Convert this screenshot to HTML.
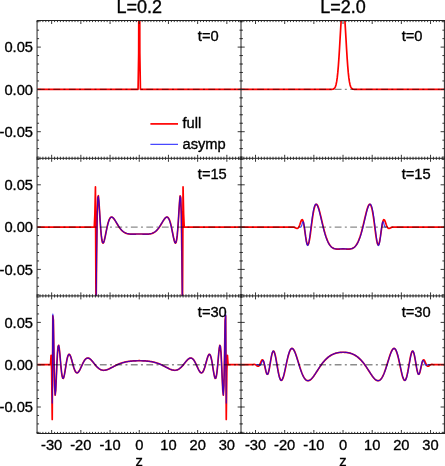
<!DOCTYPE html>
<html><head><meta charset="utf-8"><style>
html,body{margin:0;padding:0;background:#fff;}
body{width:445px;height:466px;overflow:hidden;font-family:"Liberation Sans",sans-serif;}
svg{display:block;}
</style></head><body>
<svg width="445" height="466" viewBox="0 0 445 466">
<rect width="445" height="466" fill="#fff"/>
<defs>
<clipPath id="c00"><rect x="37.05" y="20.5" width="204.4" height="137.8"/></clipPath>
<clipPath id="c01"><rect x="37.05" y="158.3" width="204.4" height="137.6"/></clipPath>
<clipPath id="c02"><rect x="37.05" y="295.9" width="204.4" height="137.6"/></clipPath>
<clipPath id="c10"><rect x="240.93" y="20.5" width="204.19" height="137.8"/></clipPath>
<clipPath id="c11"><rect x="240.93" y="158.3" width="204.19" height="137.6"/></clipPath>
<clipPath id="c12"><rect x="240.93" y="295.9" width="204.19" height="137.6"/></clipPath>
</defs>
<g clip-path="url(#c00)" fill="none" stroke-linejoin="round">
<polyline points="37.05,89.4 37.63,89.4 38.22,89.4 38.8,89.4 39.39,89.4 39.97,89.4 40.55,89.4 41.14,89.4 41.72,89.4 42.31,89.4 42.89,89.4 43.47,89.4 44.06,89.4 44.64,89.4 45.23,89.4 45.81,89.4 46.39,89.4 46.98,89.4 47.56,89.4 48.15,89.4 48.73,89.4 49.31,89.4 49.9,89.4 50.48,89.4 51.07,89.4 51.65,89.4 52.23,89.4 52.82,89.4 53.4,89.4 53.99,89.4 54.57,89.4 55.15,89.4 55.74,89.4 56.32,89.4 56.91,89.4 57.49,89.4 58.07,89.4 58.66,89.4 59.24,89.4 59.83,89.4 60.41,89.4 60.99,89.4 61.58,89.4 62.16,89.4 62.75,89.4 63.33,89.4 63.91,89.4 64.5,89.4 65.08,89.4 65.67,89.4 66.25,89.4 66.83,89.4 67.42,89.4 68,89.4 68.59,89.4 69.17,89.4 69.75,89.4 70.34,89.4 70.92,89.4 71.51,89.4 72.09,89.4 72.67,89.4 73.26,89.4 73.84,89.4 74.43,89.4 75.01,89.4 75.59,89.4 76.18,89.4 76.76,89.4 77.35,89.4 77.93,89.4 78.51,89.4 79.1,89.4 79.68,89.4 80.27,89.4 80.85,89.4 81.43,89.4 82.02,89.4 82.6,89.4 83.19,89.4 83.77,89.4 84.35,89.4 84.94,89.4 85.52,89.4 86.11,89.4 86.69,89.4 87.27,89.4 87.86,89.4 88.44,89.4 89.03,89.4 89.61,89.4 90.19,89.4 90.78,89.4 91.36,89.4 91.95,89.4 92.53,89.4 93.11,89.4 93.7,89.4 94.28,89.4 94.87,89.4 95.45,89.4 96.03,89.4 96.62,89.4 97.2,89.4 97.79,89.4 98.37,89.4 98.95,89.4 99.54,89.4 100.12,89.4 100.71,89.4 101.29,89.4 101.87,89.4 102.46,89.4 103.04,89.4 103.63,89.4 104.21,89.4 104.79,89.4 105.38,89.4 105.96,89.4 106.55,89.4 107.13,89.4 107.71,89.4 108.3,89.4 108.88,89.4 109.47,89.4 110.05,89.4 110.63,89.4 111.22,89.4 111.8,89.4 112.39,89.4 112.97,89.4 113.55,89.4 114.14,89.4 114.72,89.4 115.31,89.4 115.89,89.4 116.47,89.4 117.06,89.4 117.64,89.4 118.23,89.4 118.81,89.4 119.39,89.4 119.98,89.4 120.56,89.4 121.15,89.4 121.73,89.4 122.31,89.4 122.9,89.4 123.48,89.4 124.07,89.4 124.65,89.4 125.23,89.4 125.82,89.4 126.4,89.4 126.99,89.4 127.57,89.4 128.15,89.4 128.74,89.4 129.32,89.4 129.91,89.4 130.49,89.4 131.07,89.4 131.66,89.4 132.24,89.4 132.83,89.4 133.41,89.4 133.99,89.4 134.58,89.4 135.16,89.4 135.75,89.4 136.33,89.4 136.91,89.4 137.5,89.4 138.08,89.31 138.67,53.19 139.25,-178.13 139.83,53.19 140.42,89.31 141,89.4 141.59,89.4 142.17,89.4 142.75,89.4 143.34,89.4 143.92,89.4 144.51,89.4 145.09,89.4 145.67,89.4 146.26,89.4 146.84,89.4 147.43,89.4 148.01,89.4 148.59,89.4 149.18,89.4 149.76,89.4 150.35,89.4 150.93,89.4 151.51,89.4 152.1,89.4 152.68,89.4 153.27,89.4 153.85,89.4 154.43,89.4 155.02,89.4 155.6,89.4 156.19,89.4 156.77,89.4 157.35,89.4 157.94,89.4 158.52,89.4 159.11,89.4 159.69,89.4 160.27,89.4 160.86,89.4 161.44,89.4 162.03,89.4 162.61,89.4 163.19,89.4 163.78,89.4 164.36,89.4 164.95,89.4 165.53,89.4 166.11,89.4 166.7,89.4 167.28,89.4 167.87,89.4 168.45,89.4 169.03,89.4 169.62,89.4 170.2,89.4 170.79,89.4 171.37,89.4 171.95,89.4 172.54,89.4 173.12,89.4 173.71,89.4 174.29,89.4 174.87,89.4 175.46,89.4 176.04,89.4 176.63,89.4 177.21,89.4 177.79,89.4 178.38,89.4 178.96,89.4 179.55,89.4 180.13,89.4 180.71,89.4 181.3,89.4 181.88,89.4 182.47,89.4 183.05,89.4 183.63,89.4 184.22,89.4 184.8,89.4 185.39,89.4 185.97,89.4 186.55,89.4 187.14,89.4 187.72,89.4 188.31,89.4 188.89,89.4 189.47,89.4 190.06,89.4 190.64,89.4 191.23,89.4 191.81,89.4 192.39,89.4 192.98,89.4 193.56,89.4 194.15,89.4 194.73,89.4 195.31,89.4 195.9,89.4 196.48,89.4 197.07,89.4 197.65,89.4 198.23,89.4 198.82,89.4 199.4,89.4 199.99,89.4 200.57,89.4 201.15,89.4 201.74,89.4 202.32,89.4 202.91,89.4 203.49,89.4 204.07,89.4 204.66,89.4 205.24,89.4 205.83,89.4 206.41,89.4 206.99,89.4 207.58,89.4 208.16,89.4 208.75,89.4 209.33,89.4 209.91,89.4 210.5,89.4 211.08,89.4 211.67,89.4 212.25,89.4 212.83,89.4 213.42,89.4 214,89.4 214.59,89.4 215.17,89.4 215.75,89.4 216.34,89.4 216.92,89.4 217.51,89.4 218.09,89.4 218.67,89.4 219.26,89.4 219.84,89.4 220.43,89.4 221.01,89.4 221.59,89.4 222.18,89.4 222.76,89.4 223.35,89.4 223.93,89.4 224.51,89.4 225.1,89.4 225.68,89.4 226.27,89.4 226.85,89.4 227.43,89.4 228.02,89.4 228.6,89.4 229.19,89.4 229.77,89.4 230.35,89.4 230.94,89.4 231.52,89.4 232.11,89.4 232.69,89.4 233.27,89.4 233.86,89.4 234.44,89.4 235.03,89.4 235.61,89.4 236.19,89.4 236.78,89.4 237.36,89.4 237.95,89.4 238.53,89.4 239.11,89.4 239.7,89.4 240.28,89.4 240.87,89.4 241.45,89.4" stroke="#ff0000" stroke-width="1.7"/>
</g>
<line x1="37.05" y1="89.4" x2="241.45" y2="89.4" stroke="#8c8c8c" stroke-width="1.4" stroke-dasharray="6.8 3.3 2 3.4" stroke-dashoffset="14.7" style="mix-blend-mode:multiply"/>
<g clip-path="url(#c01)" fill="none" stroke-linejoin="round">
<polyline points="37.05,227.1 37.63,227.1 38.22,227.1 38.8,227.1 39.39,227.1 39.97,227.1 40.55,227.1 41.14,227.1 41.72,227.1 42.31,227.1 42.89,227.1 43.47,227.1 44.06,227.1 44.64,227.1 45.23,227.1 45.81,227.1 46.39,227.1 46.98,227.1 47.56,227.1 48.15,227.1 48.73,227.1 49.31,227.1 49.9,227.1 50.48,227.1 51.07,227.1 51.65,227.1 52.23,227.1 52.82,227.1 53.4,227.1 53.99,227.1 54.57,227.1 55.15,227.1 55.74,227.1 56.32,227.1 56.91,227.1 57.49,227.1 58.07,227.1 58.66,227.1 59.24,227.1 59.83,227.1 60.41,227.1 60.99,227.1 61.58,227.1 62.16,227.1 62.75,227.1 63.33,227.1 63.91,227.1 64.5,227.1 65.08,227.1 65.67,227.1 66.25,227.1 66.83,227.1 67.42,227.1 68,227.1 68.59,227.1 69.17,227.1 69.75,227.1 70.34,227.1 70.92,227.1 71.51,227.1 72.09,227.1 72.67,227.1 73.26,227.1 73.84,227.1 74.43,227.1 75.01,227.1 75.59,227.1 76.18,227.1 76.76,227.1 77.35,227.1 77.93,227.1 78.51,227.1 79.1,227.1 79.68,227.1 80.27,227.1 80.85,227.1 81.43,227.1 82.02,227.1 82.6,227.1 83.19,227.1 83.77,227.1 84.35,227.1 84.94,227.1 85.52,227.1 86.11,227.1 86.69,227.1 87.27,227.1 87.86,227.1 88.44,227.1 89.03,227.1 89.61,227.1 90.19,227.1 90.78,227.1 91.36,227.1 91.95,227.1 92.53,227.1 93.11,227.1 93.7,227.1 94.28,227.06 94.87,213.98 95.45,186.91 96.03,315.73 96.62,255.89 97.2,213.64 97.79,197.24 98.37,195.73 98.95,201.9 99.54,211.15 100.12,220.74 100.71,229.14 101.29,235.64 101.87,240.04 102.46,242.45 103.04,243.14 103.63,242.44 104.21,240.72 104.79,238.31 105.38,235.5 105.96,232.53 106.55,229.59 107.13,226.83 107.71,224.35 108.3,222.21 108.88,220.45 109.47,219.08 110.05,218.08 110.63,217.44 111.22,217.12 111.8,217.09 112.39,217.32 112.97,217.76 113.55,218.37 114.14,219.11 114.72,219.96 115.31,220.88 115.89,221.84 116.47,222.82 117.06,223.81 117.64,224.78 118.23,225.72 118.81,226.62 119.39,227.47 119.98,228.27 120.56,229.02 121.15,229.7 121.73,230.33 122.31,230.89 122.9,231.4 123.48,231.85 124.07,232.25 124.65,232.6 125.23,232.9 125.82,233.16 126.4,233.38 126.99,233.56 127.57,233.71 128.15,233.83 128.74,233.92 129.32,234 129.91,234.05 130.49,234.08 131.07,234.11 131.66,234.12 132.24,234.12 132.83,234.11 133.41,234.1 133.99,234.09 134.58,234.07 135.16,234.05 135.75,234.04 136.33,234.02 136.91,234.01 137.5,233.99 138.08,233.98 138.67,233.98 139.25,233.98 139.83,233.98 140.42,233.98 141,233.99 141.59,234.01 142.17,234.02 142.75,234.04 143.34,234.05 143.92,234.07 144.51,234.09 145.09,234.1 145.67,234.11 146.26,234.12 146.84,234.12 147.43,234.11 148.01,234.08 148.59,234.05 149.18,234 149.76,233.92 150.35,233.83 150.93,233.71 151.51,233.56 152.1,233.38 152.68,233.16 153.27,232.9 153.85,232.6 154.43,232.25 155.02,231.85 155.6,231.4 156.19,230.89 156.77,230.33 157.35,229.7 157.94,229.02 158.52,228.27 159.11,227.47 159.69,226.62 160.27,225.72 160.86,224.78 161.44,223.81 162.03,222.82 162.61,221.84 163.19,220.88 163.78,219.96 164.36,219.11 164.95,218.37 165.53,217.76 166.11,217.32 166.7,217.09 167.28,217.12 167.87,217.44 168.45,218.08 169.03,219.08 169.62,220.45 170.2,222.21 170.79,224.35 171.37,226.83 171.95,229.59 172.54,232.53 173.12,235.5 173.71,238.31 174.29,240.72 174.87,242.44 175.46,243.14 176.04,242.45 176.63,240.04 177.21,235.64 177.79,229.14 178.38,220.74 178.96,211.15 179.55,201.9 180.13,195.73 180.71,197.24 181.3,213.64 181.88,255.89 182.47,315.73 183.05,186.91 183.63,213.98 184.22,227.06 184.8,227.1 185.39,227.1 185.97,227.1 186.55,227.1 187.14,227.1 187.72,227.1 188.31,227.1 188.89,227.1 189.47,227.1 190.06,227.1 190.64,227.1 191.23,227.1 191.81,227.1 192.39,227.1 192.98,227.1 193.56,227.1 194.15,227.1 194.73,227.1 195.31,227.1 195.9,227.1 196.48,227.1 197.07,227.1 197.65,227.1 198.23,227.1 198.82,227.1 199.4,227.1 199.99,227.1 200.57,227.1 201.15,227.1 201.74,227.1 202.32,227.1 202.91,227.1 203.49,227.1 204.07,227.1 204.66,227.1 205.24,227.1 205.83,227.1 206.41,227.1 206.99,227.1 207.58,227.1 208.16,227.1 208.75,227.1 209.33,227.1 209.91,227.1 210.5,227.1 211.08,227.1 211.67,227.1 212.25,227.1 212.83,227.1 213.42,227.1 214,227.1 214.59,227.1 215.17,227.1 215.75,227.1 216.34,227.1 216.92,227.1 217.51,227.1 218.09,227.1 218.67,227.1 219.26,227.1 219.84,227.1 220.43,227.1 221.01,227.1 221.59,227.1 222.18,227.1 222.76,227.1 223.35,227.1 223.93,227.1 224.51,227.1 225.1,227.1 225.68,227.1 226.27,227.1 226.85,227.1 227.43,227.1 228.02,227.1 228.6,227.1 229.19,227.1 229.77,227.1 230.35,227.1 230.94,227.1 231.52,227.1 232.11,227.1 232.69,227.1 233.27,227.1 233.86,227.1 234.44,227.1 235.03,227.1 235.61,227.1 236.19,227.1 236.78,227.1 237.36,227.1 237.95,227.1 238.53,227.1 239.11,227.1 239.7,227.1 240.28,227.1 240.87,227.1 241.45,227.1" stroke="#ff0000" stroke-width="1.7"/>
<polyline points="96.03,314.33 96.62,253.94 97.2,215.25 97.79,198.63 98.37,196.25 98.95,201.68 99.54,210.47 100.12,219.87 100.71,228.26 101.29,234.88 101.87,239.47 102.46,242.08 103.04,242.97 103.63,242.46 104.21,240.88 104.79,238.59 105.38,235.85 105.96,232.93 106.55,230.01 107.13,227.25 107.71,224.75 108.3,222.57 108.88,220.76 109.47,219.33 110.05,218.28 110.63,217.58 111.22,217.21 111.8,217.13 112.39,217.31 112.97,217.7 113.55,218.27 114.14,218.99 114.72,219.8 115.31,220.7 115.89,221.64 116.47,222.62 117.06,223.59 117.64,224.55 118.23,225.49 118.81,226.39 119.39,227.25 119.98,228.06 120.56,228.81 121.15,229.5 121.73,230.13 122.31,230.71 122.9,231.23 123.48,231.69 124.07,232.1 124.65,232.46 125.23,232.77 125.82,233.04 126.4,233.27 126.99,233.46 127.57,233.62 128.15,233.75 128.74,233.85 129.32,233.94 129.91,234 130.49,234.04 131.07,234.07 131.66,234.09 132.24,234.1 132.83,234.1 133.41,234.09 133.99,234.08 134.58,234.07 135.16,234.05 135.75,234.04 136.33,234.02 136.91,234.01 137.5,234 138.08,233.99 138.67,233.99 139.25,233.99 139.83,233.99 140.42,233.99 141,234 141.59,234.01 142.17,234.02 142.75,234.04 143.34,234.05 143.92,234.07 144.51,234.08 145.09,234.09 145.67,234.1 146.26,234.1 146.84,234.09 147.43,234.07 148.01,234.04 148.59,234 149.18,233.94 149.76,233.85 150.35,233.75 150.93,233.62 151.51,233.46 152.1,233.27 152.68,233.04 153.27,232.77 153.85,232.46 154.43,232.1 155.02,231.69 155.6,231.23 156.19,230.71 156.77,230.13 157.35,229.5 157.94,228.81 158.52,228.06 159.11,227.25 159.69,226.39 160.27,225.49 160.86,224.55 161.44,223.59 162.03,222.62 162.61,221.64 163.19,220.7 163.78,219.8 164.36,218.99 164.95,218.27 165.53,217.7 166.11,217.31 166.7,217.13 167.28,217.21 167.87,217.58 168.45,218.28 169.03,219.33 169.62,220.76 170.2,222.57 170.79,224.75 171.37,227.25 171.95,230.01 172.54,232.93 173.12,235.85 173.71,238.59 174.29,240.88 174.87,242.46 175.46,242.97 176.04,242.08 176.63,239.47 177.21,234.88 177.79,228.26 178.38,219.87 178.96,210.47 179.55,201.68 180.13,196.25 180.71,198.63 181.3,215.25 181.88,253.94 182.47,314.33" stroke="#0000ff" stroke-width="1.2" stroke-opacity="0.72"/>
</g>
<line x1="37.05" y1="227.1" x2="241.45" y2="227.1" stroke="#8c8c8c" stroke-width="1.4" stroke-dasharray="6.8 3.3 2 3.4" stroke-dashoffset="14.7" style="mix-blend-mode:multiply"/>
<g clip-path="url(#c02)" fill="none" stroke-linejoin="round">
<polyline points="37.05,364.7 37.63,364.7 38.22,364.7 38.8,364.7 39.39,364.7 39.97,364.7 40.55,364.7 41.14,364.7 41.72,364.7 42.31,364.7 42.89,364.7 43.47,364.7 44.06,364.7 44.64,364.7 45.23,364.7 45.81,364.7 46.39,364.7 46.98,364.7 47.56,364.7 48.15,364.7 48.73,364.7 49.31,364.7 49.9,364.7 50.48,364.67 51.07,355.32 51.65,371.01 52.23,419.39 52.82,315.79 53.4,320.07 53.99,357.15 54.57,385.4 55.15,395.22 55.74,390.21 56.32,377.54 56.91,363.6 57.49,352.59 58.07,346.43 58.66,345.29 59.24,348.22 59.83,353.8 60.41,360.53 60.99,367.11 61.58,372.58 62.16,376.37 62.75,378.27 63.33,378.34 63.91,376.85 64.5,374.18 65.08,370.77 65.67,367.05 66.25,363.42 66.83,360.17 67.42,357.53 68,355.64 68.59,354.57 69.17,354.29 69.75,354.74 70.34,355.81 70.92,357.38 71.51,359.3 72.09,361.41 72.67,363.59 73.26,365.71 73.84,367.67 74.43,369.38 75.01,370.78 75.59,371.84 76.18,372.54 76.76,372.87 77.35,372.86 77.93,372.54 78.51,371.93 79.1,371.09 79.68,370.06 80.27,368.9 80.85,367.65 81.43,366.35 82.02,365.06 82.6,363.81 83.19,362.63 83.77,361.56 84.35,360.6 84.94,359.79 85.52,359.12 86.11,358.61 86.69,358.26 87.27,358.07 87.86,358.02 88.44,358.11 89.03,358.33 89.61,358.66 90.19,359.1 90.78,359.62 91.36,360.21 91.95,360.86 92.53,361.55 93.11,362.27 93.7,363 94.28,363.73 94.87,364.46 95.45,365.16 96.03,365.84 96.62,366.48 97.2,367.09 97.79,367.64 98.37,368.15 98.95,368.6 99.54,369 100.12,369.34 100.71,369.63 101.29,369.86 101.87,370.04 102.46,370.17 103.04,370.25 103.63,370.28 104.21,370.26 104.79,370.21 105.38,370.11 105.96,369.98 106.55,369.82 107.13,369.63 107.71,369.42 108.3,369.19 108.88,368.93 109.47,368.66 110.05,368.38 110.63,368.09 111.22,367.79 111.8,367.49 112.39,367.19 112.97,366.88 113.55,366.57 114.14,366.27 114.72,365.97 115.31,365.67 115.89,365.39 116.47,365.1 117.06,364.83 117.64,364.57 118.23,364.31 118.81,364.07 119.39,363.83 119.98,363.6 120.56,363.39 121.15,363.18 121.73,362.99 122.31,362.8 122.9,362.63 123.48,362.46 124.07,362.31 124.65,362.16 125.23,362.03 125.82,361.9 126.4,361.78 126.99,361.67 127.57,361.57 128.15,361.47 128.74,361.39 129.32,361.3 129.91,361.23 130.49,361.16 131.07,361.1 131.66,361.04 132.24,360.99 132.83,360.95 133.41,360.9 133.99,360.87 134.58,360.83 135.16,360.81 135.75,360.78 136.33,360.76 136.91,360.75 137.5,360.73 138.08,360.73 138.67,360.72 139.25,360.72 139.83,360.72 140.42,360.73 141,360.73 141.59,360.75 142.17,360.76 142.75,360.78 143.34,360.81 143.92,360.83 144.51,360.87 145.09,360.9 145.67,360.95 146.26,360.99 146.84,361.04 147.43,361.1 148.01,361.16 148.59,361.23 149.18,361.3 149.76,361.39 150.35,361.47 150.93,361.57 151.51,361.67 152.1,361.78 152.68,361.9 153.27,362.03 153.85,362.16 154.43,362.31 155.02,362.46 155.6,362.63 156.19,362.8 156.77,362.99 157.35,363.18 157.94,363.39 158.52,363.6 159.11,363.83 159.69,364.07 160.27,364.31 160.86,364.57 161.44,364.83 162.03,365.1 162.61,365.39 163.19,365.67 163.78,365.97 164.36,366.27 164.95,366.57 165.53,366.88 166.11,367.19 166.7,367.49 167.28,367.79 167.87,368.09 168.45,368.38 169.03,368.66 169.62,368.93 170.2,369.19 170.79,369.42 171.37,369.63 171.95,369.82 172.54,369.98 173.12,370.11 173.71,370.21 174.29,370.26 174.87,370.28 175.46,370.25 176.04,370.17 176.63,370.04 177.21,369.86 177.79,369.63 178.38,369.34 178.96,369 179.55,368.6 180.13,368.15 180.71,367.64 181.3,367.09 181.88,366.48 182.47,365.84 183.05,365.16 183.63,364.46 184.22,363.73 184.8,363 185.39,362.27 185.97,361.55 186.55,360.86 187.14,360.21 187.72,359.62 188.31,359.1 188.89,358.66 189.47,358.33 190.06,358.11 190.64,358.02 191.23,358.07 191.81,358.26 192.39,358.61 192.98,359.12 193.56,359.79 194.15,360.6 194.73,361.56 195.31,362.63 195.9,363.81 196.48,365.06 197.07,366.35 197.65,367.65 198.23,368.9 198.82,370.06 199.4,371.09 199.99,371.93 200.57,372.54 201.15,372.86 201.74,372.87 202.32,372.54 202.91,371.84 203.49,370.78 204.07,369.38 204.66,367.67 205.24,365.71 205.83,363.59 206.41,361.41 206.99,359.3 207.58,357.38 208.16,355.81 208.75,354.74 209.33,354.29 209.91,354.57 210.5,355.64 211.08,357.53 211.67,360.17 212.25,363.42 212.83,367.05 213.42,370.77 214,374.18 214.59,376.85 215.17,378.34 215.75,378.27 216.34,376.37 216.92,372.58 217.51,367.11 218.09,360.53 218.67,353.8 219.26,348.22 219.84,345.29 220.43,346.43 221.01,352.59 221.59,363.6 222.18,377.54 222.76,390.21 223.35,395.22 223.93,385.4 224.51,357.15 225.1,320.07 225.68,315.79 226.27,419.39 226.85,371.01 227.43,355.32 228.02,364.67 228.6,364.7 229.19,364.7 229.77,364.7 230.35,364.7 230.94,364.7 231.52,364.7 232.11,364.7 232.69,364.7 233.27,364.7 233.86,364.7 234.44,364.7 235.03,364.7 235.61,364.7 236.19,364.7 236.78,364.7 237.36,364.7 237.95,364.7 238.53,364.7 239.11,364.7 239.7,364.7 240.28,364.7 240.87,364.7 241.45,364.7" stroke="#ff0000" stroke-width="1.7"/>
<polyline points="52.23,403.59 52.82,314.15 53.4,321.29 53.99,357.16 54.57,384.89 55.15,394.9 55.74,390.3 56.32,377.93 56.91,364.11 57.49,353.04 58.07,346.7 58.66,345.34 59.24,348.08 59.83,353.53 60.41,360.19 60.99,366.76 61.58,372.28 62.16,376.17 62.75,378.17 63.33,378.34 63.91,376.94 64.5,374.34 65.08,370.98 65.67,367.29 66.25,363.65 66.83,360.38 67.42,357.7 68,355.77 68.59,354.64 69.17,354.3 69.75,354.71 70.34,355.74 70.92,357.27 71.51,359.16 72.09,361.26 72.67,363.43 73.26,365.56 73.84,367.52 74.43,369.25 75.01,370.67 75.59,371.76 76.18,372.48 76.76,372.85 77.35,372.86 77.93,372.56 78.51,371.98 79.1,371.16 79.68,370.15 80.27,369 80.85,367.75 81.43,366.47 82.02,365.18 82.6,363.92 83.19,362.74 83.77,361.66 84.35,360.69 84.94,359.87 85.52,359.19 86.11,358.67 86.69,358.3 87.27,358.09 87.86,358.02 88.44,358.1 89.03,358.31 89.61,358.63 90.19,359.05 90.78,359.56 91.36,360.15 91.95,360.79 92.53,361.47 93.11,362.19 93.7,362.92 94.28,363.65 94.87,364.37 95.45,365.08 96.03,365.76 96.62,366.41 97.2,367.01 97.79,367.57 98.37,368.08 98.95,368.54 99.54,368.95 100.12,369.3 100.71,369.59 101.29,369.83 101.87,370.02 102.46,370.15 103.04,370.23 103.63,370.27 104.21,370.26 104.79,370.21 105.38,370.12 105.96,370 106.55,369.85 107.13,369.66 107.71,369.45 108.3,369.22 108.88,368.98 109.47,368.71 110.05,368.43 110.63,368.14 111.22,367.85 111.8,367.55 112.39,367.24 112.97,366.94 113.55,366.63 114.14,366.33 114.72,366.03 115.31,365.74 115.89,365.45 116.47,365.17 117.06,364.9 117.64,364.63 118.23,364.38 118.81,364.13 119.39,363.89 119.98,363.67 120.56,363.45 121.15,363.24 121.73,363.05 122.31,362.86 122.9,362.69 123.48,362.52 124.07,362.37 124.65,362.22 125.23,362.08 125.82,361.95 126.4,361.83 126.99,361.72 127.57,361.62 128.15,361.52 128.74,361.43 129.32,361.35 129.91,361.27 130.49,361.2 131.07,361.14 131.66,361.08 132.24,361.03 132.83,360.99 133.41,360.94 133.99,360.91 134.58,360.87 135.16,360.84 135.75,360.82 136.33,360.8 136.91,360.78 137.5,360.77 138.08,360.76 138.67,360.76 139.25,360.75 139.83,360.76 140.42,360.76 141,360.77 141.59,360.78 142.17,360.8 142.75,360.82 143.34,360.84 143.92,360.87 144.51,360.91 145.09,360.94 145.67,360.99 146.26,361.03 146.84,361.08 147.43,361.14 148.01,361.2 148.59,361.27 149.18,361.35 149.76,361.43 150.35,361.52 150.93,361.62 151.51,361.72 152.1,361.83 152.68,361.95 153.27,362.08 153.85,362.22 154.43,362.37 155.02,362.52 155.6,362.69 156.19,362.86 156.77,363.05 157.35,363.24 157.94,363.45 158.52,363.67 159.11,363.89 159.69,364.13 160.27,364.38 160.86,364.63 161.44,364.9 162.03,365.17 162.61,365.45 163.19,365.74 163.78,366.03 164.36,366.33 164.95,366.63 165.53,366.94 166.11,367.24 166.7,367.55 167.28,367.85 167.87,368.14 168.45,368.43 169.03,368.71 169.62,368.98 170.2,369.22 170.79,369.45 171.37,369.66 171.95,369.85 172.54,370 173.12,370.12 173.71,370.21 174.29,370.26 174.87,370.27 175.46,370.23 176.04,370.15 176.63,370.02 177.21,369.83 177.79,369.59 178.38,369.3 178.96,368.95 179.55,368.54 180.13,368.08 180.71,367.57 181.3,367.01 181.88,366.41 182.47,365.76 183.05,365.08 183.63,364.37 184.22,363.65 184.8,362.92 185.39,362.19 185.97,361.47 186.55,360.79 187.14,360.15 187.72,359.56 188.31,359.05 188.89,358.63 189.47,358.31 190.06,358.1 190.64,358.02 191.23,358.09 191.81,358.3 192.39,358.67 192.98,359.19 193.56,359.87 194.15,360.69 194.73,361.66 195.31,362.74 195.9,363.92 196.48,365.18 197.07,366.47 197.65,367.75 198.23,369 198.82,370.15 199.4,371.16 199.99,371.98 200.57,372.56 201.15,372.86 201.74,372.85 202.32,372.48 202.91,371.76 203.49,370.67 204.07,369.25 204.66,367.52 205.24,365.56 205.83,363.43 206.41,361.26 206.99,359.16 207.58,357.27 208.16,355.74 208.75,354.71 209.33,354.3 209.91,354.64 210.5,355.77 211.08,357.7 211.67,360.38 212.25,363.65 212.83,367.29 213.42,370.98 214,374.34 214.59,376.94 215.17,378.34 215.75,378.17 216.34,376.17 216.92,372.28 217.51,366.76 218.09,360.19 218.67,353.53 219.26,348.08 219.84,345.34 220.43,346.7 221.01,353.04 221.59,364.11 222.18,377.93 222.76,390.3 223.35,394.9 223.93,384.89 224.51,357.16 225.1,321.29 225.68,314.15 226.27,403.59" stroke="#0000ff" stroke-width="1.2" stroke-opacity="0.72"/>
</g>
<line x1="37.05" y1="364.7" x2="241.45" y2="364.7" stroke="#8c8c8c" stroke-width="1.4" stroke-dasharray="6.8 3.3 2 3.4" stroke-dashoffset="14.7" style="mix-blend-mode:multiply"/>
<g clip-path="url(#c10)" fill="none" stroke-linejoin="round">
<polyline points="240.93,89.4 241.52,89.4 242.1,89.4 242.69,89.4 243.27,89.4 243.85,89.4 244.44,89.4 245.02,89.4 245.6,89.4 246.19,89.4 246.77,89.4 247.35,89.4 247.94,89.4 248.52,89.4 249.1,89.4 249.69,89.4 250.27,89.4 250.85,89.4 251.44,89.4 252.02,89.4 252.6,89.4 253.19,89.4 253.77,89.4 254.35,89.4 254.94,89.4 255.52,89.4 256.1,89.4 256.69,89.4 257.27,89.4 257.85,89.4 258.44,89.4 259.02,89.4 259.6,89.4 260.19,89.4 260.77,89.4 261.35,89.4 261.94,89.4 262.52,89.4 263.1,89.4 263.69,89.4 264.27,89.4 264.85,89.4 265.44,89.4 266.02,89.4 266.6,89.4 267.19,89.4 267.77,89.4 268.35,89.4 268.94,89.4 269.52,89.4 270.1,89.4 270.69,89.4 271.27,89.4 271.86,89.4 272.44,89.4 273.02,89.4 273.61,89.4 274.19,89.4 274.77,89.4 275.36,89.4 275.94,89.4 276.52,89.4 277.11,89.4 277.69,89.4 278.27,89.4 278.86,89.4 279.44,89.4 280.02,89.4 280.61,89.4 281.19,89.4 281.77,89.4 282.36,89.4 282.94,89.4 283.52,89.4 284.11,89.4 284.69,89.4 285.27,89.4 285.86,89.4 286.44,89.4 287.02,89.4 287.61,89.4 288.19,89.4 288.77,89.4 289.36,89.4 289.94,89.4 290.52,89.4 291.11,89.4 291.69,89.4 292.27,89.4 292.86,89.4 293.44,89.4 294.02,89.4 294.61,89.4 295.19,89.4 295.77,89.4 296.36,89.4 296.94,89.4 297.52,89.4 298.11,89.4 298.69,89.4 299.27,89.4 299.86,89.4 300.44,89.4 301.03,89.4 301.61,89.4 302.19,89.4 302.78,89.4 303.36,89.4 303.94,89.4 304.53,89.4 305.11,89.4 305.69,89.4 306.28,89.4 306.86,89.4 307.44,89.4 308.03,89.4 308.61,89.4 309.19,89.4 309.78,89.4 310.36,89.4 310.94,89.4 311.53,89.4 312.11,89.4 312.69,89.4 313.28,89.4 313.86,89.4 314.44,89.4 315.03,89.4 315.61,89.4 316.19,89.4 316.78,89.4 317.36,89.4 317.94,89.4 318.53,89.4 319.11,89.4 319.69,89.4 320.28,89.4 320.86,89.4 321.44,89.4 322.03,89.4 322.61,89.4 323.19,89.4 323.78,89.4 324.36,89.4 324.94,89.4 325.53,89.4 326.11,89.4 326.69,89.4 327.28,89.4 327.86,89.4 328.44,89.4 329.03,89.4 329.61,89.4 330.2,89.39 330.78,89.39 331.36,89.37 331.95,89.34 332.53,89.27 333.11,89.14 333.7,88.89 334.28,88.46 334.86,87.72 335.45,86.52 336.03,84.65 336.61,81.88 337.2,77.95 337.78,72.66 338.36,65.88 338.95,57.65 339.53,48.22 340.11,38.09 340.7,27.97 341.28,18.74 341.86,11.3 342.45,6.48 343.03,4.8 343.61,6.48 344.2,11.3 344.78,18.74 345.36,27.97 345.95,38.09 346.53,48.22 347.11,57.65 347.7,65.88 348.28,72.66 348.86,77.95 349.45,81.88 350.03,84.65 350.61,86.52 351.2,87.72 351.78,88.46 352.36,88.89 352.95,89.14 353.53,89.27 354.11,89.34 354.7,89.37 355.28,89.39 355.86,89.39 356.45,89.4 357.03,89.4 357.61,89.4 358.2,89.4 358.78,89.4 359.37,89.4 359.95,89.4 360.53,89.4 361.12,89.4 361.7,89.4 362.28,89.4 362.87,89.4 363.45,89.4 364.03,89.4 364.62,89.4 365.2,89.4 365.78,89.4 366.37,89.4 366.95,89.4 367.53,89.4 368.12,89.4 368.7,89.4 369.28,89.4 369.87,89.4 370.45,89.4 371.03,89.4 371.62,89.4 372.2,89.4 372.78,89.4 373.37,89.4 373.95,89.4 374.53,89.4 375.12,89.4 375.7,89.4 376.28,89.4 376.87,89.4 377.45,89.4 378.03,89.4 378.62,89.4 379.2,89.4 379.78,89.4 380.37,89.4 380.95,89.4 381.53,89.4 382.12,89.4 382.7,89.4 383.28,89.4 383.87,89.4 384.45,89.4 385.03,89.4 385.62,89.4 386.2,89.4 386.78,89.4 387.37,89.4 387.95,89.4 388.54,89.4 389.12,89.4 389.7,89.4 390.29,89.4 390.87,89.4 391.45,89.4 392.04,89.4 392.62,89.4 393.2,89.4 393.79,89.4 394.37,89.4 394.95,89.4 395.54,89.4 396.12,89.4 396.7,89.4 397.29,89.4 397.87,89.4 398.45,89.4 399.04,89.4 399.62,89.4 400.2,89.4 400.79,89.4 401.37,89.4 401.95,89.4 402.54,89.4 403.12,89.4 403.7,89.4 404.29,89.4 404.87,89.4 405.45,89.4 406.04,89.4 406.62,89.4 407.2,89.4 407.79,89.4 408.37,89.4 408.95,89.4 409.54,89.4 410.12,89.4 410.7,89.4 411.29,89.4 411.87,89.4 412.45,89.4 413.04,89.4 413.62,89.4 414.2,89.4 414.79,89.4 415.37,89.4 415.95,89.4 416.54,89.4 417.12,89.4 417.71,89.4 418.29,89.4 418.87,89.4 419.46,89.4 420.04,89.4 420.62,89.4 421.21,89.4 421.79,89.4 422.37,89.4 422.96,89.4 423.54,89.4 424.12,89.4 424.71,89.4 425.29,89.4 425.87,89.4 426.46,89.4 427.04,89.4 427.62,89.4 428.21,89.4 428.79,89.4 429.37,89.4 429.96,89.4 430.54,89.4 431.12,89.4 431.71,89.4 432.29,89.4 432.87,89.4 433.46,89.4 434.04,89.4 434.62,89.4 435.21,89.4 435.79,89.4 436.37,89.4 436.96,89.4 437.54,89.4 438.12,89.4 438.71,89.4 439.29,89.4 439.87,89.4 440.46,89.4 441.04,89.4 441.62,89.4 442.21,89.4 442.79,89.4 443.37,89.4 443.96,89.4 444.54,89.4 445.12,89.4" stroke="#ff0000" stroke-width="1.7"/>
</g>
<line x1="240.93" y1="89.4" x2="445.12" y2="89.4" stroke="#8c8c8c" stroke-width="1.4" stroke-dasharray="6.8 3.3 2 3.4" stroke-dashoffset="14.7" style="mix-blend-mode:multiply"/>
<g clip-path="url(#c11)" fill="none" stroke-linejoin="round">
<polyline points="240.93,227.1 241.52,227.1 242.1,227.1 242.69,227.1 243.27,227.1 243.85,227.1 244.44,227.1 245.02,227.1 245.6,227.1 246.19,227.1 246.77,227.1 247.35,227.1 247.94,227.1 248.52,227.1 249.1,227.1 249.69,227.1 250.27,227.1 250.85,227.1 251.44,227.1 252.02,227.1 252.6,227.1 253.19,227.1 253.77,227.1 254.35,227.1 254.94,227.1 255.52,227.1 256.1,227.1 256.69,227.1 257.27,227.1 257.85,227.1 258.44,227.1 259.02,227.1 259.6,227.1 260.19,227.1 260.77,227.1 261.35,227.1 261.94,227.1 262.52,227.1 263.1,227.1 263.69,227.1 264.27,227.1 264.85,227.1 265.44,227.1 266.02,227.1 266.6,227.1 267.19,227.1 267.77,227.1 268.35,227.1 268.94,227.1 269.52,227.1 270.1,227.1 270.69,227.1 271.27,227.1 271.86,227.1 272.44,227.1 273.02,227.1 273.61,227.1 274.19,227.1 274.77,227.1 275.36,227.1 275.94,227.1 276.52,227.1 277.11,227.1 277.69,227.1 278.27,227.1 278.86,227.1 279.44,227.1 280.02,227.1 280.61,227.1 281.19,227.1 281.77,227.1 282.36,227.1 282.94,227.1 283.52,227.1 284.11,227.1 284.69,227.1 285.27,227.1 285.86,227.1 286.44,227.1 287.02,227.1 287.61,227.1 288.19,227.1 288.77,227.09 289.36,227.09 289.94,227.08 290.52,227.07 291.11,227.05 291.69,227.04 292.27,227.04 292.86,227.06 293.44,227.11 294.02,227.22 294.61,227.4 295.19,227.64 295.77,227.93 296.36,228.21 296.94,228.39 297.52,228.36 298.11,228 298.69,227.22 299.27,226.01 299.86,224.45 300.44,222.73 301.03,221.13 301.61,220.01 302.19,219.67 302.78,220.37 303.36,222.2 303.94,225.08 304.53,228.76 305.11,232.86 305.69,236.92 306.28,240.47 306.86,243.14 307.44,244.63 308.03,244.82 308.61,243.7 309.19,241.39 309.78,238.1 310.36,234.11 310.94,229.69 311.53,225.13 312.11,220.68 312.69,216.54 313.28,212.88 313.86,209.81 314.44,207.4 315.03,205.67 315.61,204.63 316.19,204.23 316.78,204.43 317.36,205.17 317.94,206.37 318.53,207.96 319.11,209.87 319.69,212.02 320.28,214.34 320.86,216.78 321.44,219.28 322.03,221.78 322.61,224.26 323.19,226.67 323.78,229 324.36,231.21 324.94,233.29 325.53,235.23 326.11,237.02 326.69,238.67 327.28,240.16 327.86,241.51 328.44,242.72 329.03,243.78 329.61,244.72 330.2,245.54 330.78,246.24 331.36,246.84 331.95,247.34 332.53,247.76 333.11,248.11 333.7,248.38 334.28,248.6 334.86,248.76 335.45,248.89 336.03,248.97 336.61,249.03 337.2,249.06 337.78,249.07 338.36,249.07 338.95,249.06 339.53,249.04 340.11,249.02 340.7,249 341.28,248.98 341.86,248.97 342.45,248.96 343.03,248.96 343.61,248.96 344.2,248.97 344.78,248.98 345.36,249 345.95,249.02 346.53,249.04 347.11,249.06 347.7,249.07 348.28,249.07 348.86,249.06 349.45,249.03 350.03,248.97 350.61,248.89 351.2,248.76 351.78,248.6 352.36,248.38 352.95,248.11 353.53,247.76 354.11,247.34 354.7,246.84 355.28,246.24 355.86,245.54 356.45,244.72 357.03,243.78 357.61,242.72 358.2,241.51 358.78,240.16 359.37,238.67 359.95,237.02 360.53,235.23 361.12,233.29 361.7,231.21 362.28,229 362.87,226.67 363.45,224.26 364.03,221.78 364.62,219.28 365.2,216.78 365.78,214.34 366.37,212.02 366.95,209.87 367.53,207.96 368.12,206.37 368.7,205.17 369.28,204.43 369.87,204.23 370.45,204.63 371.03,205.67 371.62,207.4 372.2,209.81 372.78,212.88 373.37,216.54 373.95,220.68 374.53,225.13 375.12,229.69 375.7,234.11 376.28,238.1 376.87,241.39 377.45,243.7 378.03,244.82 378.62,244.63 379.2,243.14 379.78,240.47 380.37,236.92 380.95,232.86 381.53,228.76 382.12,225.08 382.7,222.2 383.28,220.37 383.87,219.67 384.45,220.01 385.03,221.13 385.62,222.73 386.2,224.45 386.78,226.01 387.37,227.22 387.95,228 388.54,228.36 389.12,228.39 389.7,228.21 390.29,227.93 390.87,227.64 391.45,227.4 392.04,227.22 392.62,227.11 393.2,227.06 393.79,227.04 394.37,227.04 394.95,227.05 395.54,227.07 396.12,227.08 396.7,227.09 397.29,227.09 397.87,227.1 398.45,227.1 399.04,227.1 399.62,227.1 400.2,227.1 400.79,227.1 401.37,227.1 401.95,227.1 402.54,227.1 403.12,227.1 403.7,227.1 404.29,227.1 404.87,227.1 405.45,227.1 406.04,227.1 406.62,227.1 407.2,227.1 407.79,227.1 408.37,227.1 408.95,227.1 409.54,227.1 410.12,227.1 410.7,227.1 411.29,227.1 411.87,227.1 412.45,227.1 413.04,227.1 413.62,227.1 414.2,227.1 414.79,227.1 415.37,227.1 415.95,227.1 416.54,227.1 417.12,227.1 417.71,227.1 418.29,227.1 418.87,227.1 419.46,227.1 420.04,227.1 420.62,227.1 421.21,227.1 421.79,227.1 422.37,227.1 422.96,227.1 423.54,227.1 424.12,227.1 424.71,227.1 425.29,227.1 425.87,227.1 426.46,227.1 427.04,227.1 427.62,227.1 428.21,227.1 428.79,227.1 429.37,227.1 429.96,227.1 430.54,227.1 431.12,227.1 431.71,227.1 432.29,227.1 432.87,227.1 433.46,227.1 434.04,227.1 434.62,227.1 435.21,227.1 435.79,227.1 436.37,227.1 436.96,227.1 437.54,227.1 438.12,227.1 438.71,227.1 439.29,227.1 439.87,227.1 440.46,227.1 441.04,227.1 441.62,227.1 442.21,227.1 442.79,227.1 443.37,227.1 443.96,227.1 444.54,227.1 445.12,227.1" stroke="#ff0000" stroke-width="1.7"/>
<polyline points="299.86,227.1 300.44,227.11 301.03,226.99 301.61,225.84 302.19,223.66 302.78,221.84 303.36,221.76 303.94,223.86 304.53,227.77 305.11,232.62 305.69,237.48 306.28,241.57 306.86,244.34 307.44,245.56 308.03,245.18 308.61,243.36 309.19,240.35 309.78,236.47 310.36,232.03 310.94,227.36 311.53,222.73 312.11,218.36 312.69,214.43 313.28,211.06 313.86,208.33 314.44,206.28 315.03,204.92 315.61,204.22 316.19,204.13 316.78,204.61 317.36,205.58 317.94,206.96 318.53,208.7 319.11,210.71 319.69,212.93 320.28,215.29 320.86,217.75 321.44,220.23 322.03,222.72 322.61,225.15 323.19,227.52 323.78,229.78 324.36,231.93 324.94,233.95 325.53,235.83 326.11,237.56 326.69,239.15 327.28,240.58 327.86,241.88 328.44,243.03 329.03,244.05 329.61,244.94 330.2,245.72 330.78,246.39 331.36,246.95 331.95,247.43 332.53,247.82 333.11,248.14 333.7,248.4 334.28,248.6 334.86,248.75 335.45,248.86 336.03,248.93 336.61,248.98 337.2,249.01 337.78,249.01 338.36,249 338.95,248.99 339.53,248.97 340.11,248.95 340.7,248.92 341.28,248.91 341.86,248.89 342.45,248.88 343.03,248.88 343.61,248.88 344.2,248.89 344.78,248.91 345.36,248.92 345.95,248.95 346.53,248.97 347.11,248.99 347.7,249 348.28,249.01 348.86,249.01 349.45,248.98 350.03,248.93 350.61,248.86 351.2,248.75 351.78,248.6 352.36,248.4 352.95,248.14 353.53,247.82 354.11,247.43 354.7,246.95 355.28,246.39 355.86,245.72 356.45,244.94 357.03,244.05 357.61,243.03 358.2,241.88 358.78,240.58 359.37,239.15 359.95,237.56 360.53,235.83 361.12,233.95 361.7,231.93 362.28,229.78 362.87,227.52 363.45,225.15 364.03,222.72 364.62,220.23 365.2,217.75 365.78,215.29 366.37,212.93 366.95,210.71 367.53,208.7 368.12,206.96 368.7,205.58 369.28,204.61 369.87,204.13 370.45,204.22 371.03,204.92 371.62,206.28 372.2,208.33 372.78,211.06 373.37,214.43 373.95,218.36 374.53,222.73 375.12,227.36 375.7,232.03 376.28,236.47 376.87,240.35 377.45,243.36 378.03,245.18 378.62,245.56 379.2,244.34 379.78,241.57 380.37,237.48 380.95,232.62 381.53,227.77 382.12,223.86 382.7,221.76 383.28,221.84 383.87,223.66 384.45,225.84 385.03,226.99 385.62,227.11 386.2,227.1" stroke="#0000ff" stroke-width="1.2" stroke-opacity="0.72"/>
</g>
<line x1="240.93" y1="227.1" x2="445.12" y2="227.1" stroke="#8c8c8c" stroke-width="1.4" stroke-dasharray="6.8 3.3 2 3.4" stroke-dashoffset="14.7" style="mix-blend-mode:multiply"/>
<g clip-path="url(#c12)" fill="none" stroke-linejoin="round">
<polyline points="240.93,364.7 241.52,364.7 242.1,364.7 242.69,364.7 243.27,364.7 243.85,364.7 244.44,364.7 245.02,364.7 245.6,364.7 246.19,364.7 246.77,364.7 247.35,364.7 247.94,364.71 248.52,364.71 249.1,364.72 249.69,364.72 250.27,364.72 250.85,364.71 251.44,364.68 252.02,364.63 252.6,364.56 253.19,364.48 253.77,364.42 254.35,364.42 254.94,364.52 255.52,364.75 256.1,365.11 256.69,365.55 257.27,365.98 257.85,366.26 258.44,366.24 259.02,365.82 259.6,364.96 260.19,363.73 260.77,362.32 261.35,361 261.94,360.06 262.52,359.78 263.1,360.34 263.69,361.75 264.27,363.89 264.85,366.5 265.44,369.22 266.02,371.65 266.6,373.44 267.19,374.31 267.77,374.11 268.35,372.83 268.94,370.59 269.52,367.63 270.1,364.22 270.69,360.71 271.27,357.41 271.86,354.62 272.44,352.55 273.02,351.36 273.61,351.12 274.19,351.82 274.77,353.38 275.36,355.68 275.94,358.54 276.52,361.78 277.11,365.19 277.69,368.57 278.27,371.76 278.86,374.58 279.44,376.93 280.02,378.71 280.61,379.86 281.19,380.37 281.77,380.23 282.36,379.5 282.94,378.21 283.52,376.44 284.11,374.29 284.69,371.84 285.27,369.18 285.86,366.42 286.44,363.65 287.02,360.94 287.61,358.38 288.19,356.03 288.77,353.94 289.36,352.15 289.94,350.7 290.52,349.59 291.11,348.85 291.69,348.47 292.27,348.44 292.86,348.74 293.44,349.35 294.02,350.24 294.61,351.38 295.19,352.74 295.77,354.28 296.36,355.97 296.94,357.76 297.52,359.63 298.11,361.54 298.69,363.46 299.27,365.36 299.86,367.21 300.44,369 301.03,370.7 301.61,372.29 302.19,373.77 302.78,375.11 303.36,376.32 303.94,377.38 304.53,378.29 305.11,379.06 305.69,379.67 306.28,380.14 306.86,380.47 307.44,380.65 308.03,380.71 308.61,380.65 309.19,380.47 309.78,380.18 310.36,379.8 310.94,379.32 311.53,378.77 312.11,378.14 312.69,377.45 313.28,376.71 313.86,375.93 314.44,375.1 315.03,374.25 315.61,373.37 316.19,372.48 316.78,371.58 317.36,370.68 317.94,369.77 318.53,368.88 319.11,367.99 319.69,367.12 320.28,366.26 320.86,365.42 321.44,364.61 322.03,363.82 322.61,363.06 323.19,362.32 323.78,361.62 324.36,360.94 324.94,360.29 325.53,359.68 326.11,359.09 326.69,358.53 327.28,358 327.86,357.5 328.44,357.03 329.03,356.59 329.61,356.18 330.2,355.79 330.78,355.43 331.36,355.09 331.95,354.78 332.53,354.49 333.11,354.22 333.7,353.97 334.28,353.75 334.86,353.54 335.45,353.35 336.03,353.18 336.61,353.02 337.2,352.88 337.78,352.76 338.36,352.65 338.95,352.55 339.53,352.47 340.11,352.4 340.7,352.35 341.28,352.31 341.86,352.28 342.45,352.26 343.03,352.25 343.61,352.26 344.2,352.28 344.78,352.31 345.36,352.35 345.95,352.4 346.53,352.47 347.11,352.55 347.7,352.65 348.28,352.76 348.86,352.88 349.45,353.02 350.03,353.18 350.61,353.35 351.2,353.54 351.78,353.75 352.36,353.97 352.95,354.22 353.53,354.49 354.11,354.78 354.7,355.09 355.28,355.43 355.86,355.79 356.45,356.18 357.03,356.59 357.61,357.03 358.2,357.5 358.78,358 359.37,358.53 359.95,359.09 360.53,359.68 361.12,360.29 361.7,360.94 362.28,361.62 362.87,362.32 363.45,363.06 364.03,363.82 364.62,364.61 365.2,365.42 365.78,366.26 366.37,367.12 366.95,367.99 367.53,368.88 368.12,369.77 368.7,370.68 369.28,371.58 369.87,372.48 370.45,373.37 371.03,374.25 371.62,375.1 372.2,375.93 372.78,376.71 373.37,377.45 373.95,378.14 374.53,378.77 375.12,379.32 375.7,379.8 376.28,380.18 376.87,380.47 377.45,380.65 378.03,380.71 378.62,380.65 379.2,380.47 379.78,380.14 380.37,379.67 380.95,379.06 381.53,378.29 382.12,377.38 382.7,376.32 383.28,375.11 383.87,373.77 384.45,372.29 385.03,370.7 385.62,369 386.2,367.21 386.78,365.36 387.37,363.46 387.95,361.54 388.54,359.63 389.12,357.76 389.7,355.97 390.29,354.28 390.87,352.74 391.45,351.38 392.04,350.24 392.62,349.35 393.2,348.74 393.79,348.44 394.37,348.47 394.95,348.85 395.54,349.59 396.12,350.7 396.7,352.15 397.29,353.94 397.87,356.03 398.45,358.38 399.04,360.94 399.62,363.65 400.2,366.42 400.79,369.18 401.37,371.84 401.95,374.29 402.54,376.44 403.12,378.21 403.7,379.5 404.29,380.23 404.87,380.37 405.45,379.86 406.04,378.71 406.62,376.93 407.2,374.58 407.79,371.76 408.37,368.57 408.95,365.19 409.54,361.78 410.12,358.54 410.7,355.68 411.29,353.38 411.87,351.82 412.45,351.12 413.04,351.36 413.62,352.55 414.2,354.62 414.79,357.41 415.37,360.71 415.95,364.22 416.54,367.63 417.12,370.59 417.71,372.83 418.29,374.11 418.87,374.31 419.46,373.44 420.04,371.65 420.62,369.22 421.21,366.5 421.79,363.89 422.37,361.75 422.96,360.34 423.54,359.78 424.12,360.06 424.71,361 425.29,362.32 425.87,363.73 426.46,364.96 427.04,365.82 427.62,366.24 428.21,366.26 428.79,365.98 429.37,365.55 429.96,365.11 430.54,364.75 431.12,364.52 431.71,364.42 432.29,364.42 432.87,364.48 433.46,364.56 434.04,364.63 434.62,364.68 435.21,364.71 435.79,364.72 436.37,364.72 436.96,364.72 437.54,364.71 438.12,364.71 438.71,364.7 439.29,364.7 439.87,364.7 440.46,364.7 441.04,364.7 441.62,364.7 442.21,364.7 442.79,364.7 443.37,364.7 443.96,364.7 444.54,364.7 445.12,364.7" stroke="#ff0000" stroke-width="1.7"/>
<polyline points="256.1,364.7 256.69,364.7 257.27,364.7 257.85,364.7 258.44,364.76 259.02,364.98 259.6,365.28 260.19,365.28 260.77,364.66 261.35,363.4 261.94,361.89 262.52,360.7 263.1,360.34 263.69,361.11 264.27,362.97 264.85,365.62 265.44,368.59 266.02,371.33 266.6,373.38 267.19,374.38 267.77,374.19 268.35,372.79 268.94,370.37 269.52,367.2 270.1,363.62 270.69,360 271.27,356.69 271.86,353.96 272.44,352.05 273.02,351.07 273.61,351.06 274.19,352.01 274.77,353.81 275.36,356.31 275.94,359.33 276.52,362.66 277.11,366.11 277.69,369.48 278.27,372.6 278.86,375.32 279.44,377.53 280.02,379.15 280.61,380.13 281.19,380.46 281.77,380.15 282.36,379.26 282.94,377.83 283.52,375.96 284.11,373.71 284.69,371.2 285.27,368.51 285.86,365.74 286.44,362.98 287.02,360.3 287.61,357.79 288.19,355.5 288.77,353.48 289.36,351.77 289.94,350.4 290.52,349.38 291.11,348.72 291.69,348.42 292.27,348.46 292.86,348.83 293.44,349.51 294.02,350.45 294.61,351.64 295.19,353.04 295.77,354.61 296.36,356.32 296.94,358.13 297.52,360 298.11,361.91 298.69,363.83 299.27,365.72 299.86,367.56 300.44,369.32 301.03,371 301.61,372.57 302.19,374.02 302.78,375.34 303.36,376.51 303.94,377.55 304.53,378.43 305.11,379.17 305.69,379.76 306.28,380.2 306.86,380.5 307.44,380.67 308.03,380.7 308.61,380.62 309.19,380.42 309.78,380.12 310.36,379.72 310.94,379.23 311.53,378.67 312.11,378.03 312.69,377.33 313.28,376.59 313.86,375.8 314.44,374.97 315.03,374.11 315.61,373.24 316.19,372.34 316.78,371.44 317.36,370.54 317.94,369.64 318.53,368.74 319.11,367.86 319.69,366.99 320.28,366.13 320.86,365.3 321.44,364.49 322.03,363.71 322.61,362.95 323.19,362.22 323.78,361.51 324.36,360.84 324.94,360.2 325.53,359.58 326.11,359 326.69,358.45 327.28,357.92 327.86,357.43 328.44,356.96 329.03,356.53 329.61,356.11 330.2,355.73 330.78,355.37 331.36,355.04 331.95,354.73 332.53,354.44 333.11,354.17 333.7,353.93 334.28,353.7 334.86,353.5 335.45,353.31 336.03,353.14 336.61,352.98 337.2,352.85 337.78,352.72 338.36,352.62 338.95,352.52 339.53,352.44 340.11,352.37 340.7,352.32 341.28,352.28 341.86,352.25 342.45,352.23 343.03,352.22 343.61,352.23 344.2,352.25 344.78,352.28 345.36,352.32 345.95,352.37 346.53,352.44 347.11,352.52 347.7,352.62 348.28,352.72 348.86,352.85 349.45,352.98 350.03,353.14 350.61,353.31 351.2,353.5 351.78,353.7 352.36,353.93 352.95,354.17 353.53,354.44 354.11,354.73 354.7,355.04 355.28,355.37 355.86,355.73 356.45,356.11 357.03,356.53 357.61,356.96 358.2,357.43 358.78,357.92 359.37,358.45 359.95,359 360.53,359.58 361.12,360.2 361.7,360.84 362.28,361.51 362.87,362.22 363.45,362.95 364.03,363.71 364.62,364.49 365.2,365.3 365.78,366.13 366.37,366.99 366.95,367.86 367.53,368.74 368.12,369.64 368.7,370.54 369.28,371.44 369.87,372.34 370.45,373.24 371.03,374.11 371.62,374.97 372.2,375.8 372.78,376.59 373.37,377.33 373.95,378.03 374.53,378.67 375.12,379.23 375.7,379.72 376.28,380.12 376.87,380.42 377.45,380.62 378.03,380.7 378.62,380.67 379.2,380.5 379.78,380.2 380.37,379.76 380.95,379.17 381.53,378.43 382.12,377.55 382.7,376.51 383.28,375.34 383.87,374.02 384.45,372.57 385.03,371 385.62,369.32 386.2,367.56 386.78,365.72 387.37,363.83 387.95,361.91 388.54,360 389.12,358.13 389.7,356.32 390.29,354.61 390.87,353.04 391.45,351.64 392.04,350.45 392.62,349.51 393.2,348.83 393.79,348.46 394.37,348.42 394.95,348.72 395.54,349.38 396.12,350.4 396.7,351.77 397.29,353.48 397.87,355.5 398.45,357.79 399.04,360.3 399.62,362.98 400.2,365.74 400.79,368.51 401.37,371.2 401.95,373.71 402.54,375.96 403.12,377.83 403.7,379.26 404.29,380.15 404.87,380.46 405.45,380.13 406.04,379.15 406.62,377.53 407.2,375.32 407.79,372.6 408.37,369.48 408.95,366.11 409.54,362.66 410.12,359.33 410.7,356.31 411.29,353.81 411.87,352.01 412.45,351.06 413.04,351.07 413.62,352.05 414.2,353.96 414.79,356.69 415.37,360 415.95,363.62 416.54,367.2 417.12,370.37 417.71,372.79 418.29,374.19 418.87,374.38 419.46,373.38 420.04,371.33 420.62,368.59 421.21,365.62 421.79,362.97 422.37,361.11 422.96,360.34 423.54,360.7 424.12,361.89 424.71,363.4 425.29,364.66 425.87,365.28 426.46,365.28 427.04,364.98 427.62,364.76 428.21,364.7 428.79,364.7 429.37,364.7 429.96,364.7" stroke="#0000ff" stroke-width="1.2" stroke-opacity="0.72"/>
</g>
<line x1="240.93" y1="364.7" x2="445.12" y2="364.7" stroke="#8c8c8c" stroke-width="1.4" stroke-dasharray="6.8 3.3 2 3.4" stroke-dashoffset="14.7" style="mix-blend-mode:multiply"/>
<path d="M37.05 20.5H445.12M37.05 158.3H445.12M37.05 295.9H445.12M37.05 433.5H445.12M37.05 20.5V433.5M241 20.5V433.5M444.4 20.5V433.5" stroke="#222" stroke-width="1.0" fill="none"/>
<path d="M37.05 158.3v-1.6M37.05 20.5v1.6M39.97 158.3v-1.6M39.97 20.5v1.6M42.89 158.3v-1.6M42.89 20.5v1.6M45.81 158.3v-1.6M45.81 20.5v1.6M48.73 158.3v-1.6M48.73 20.5v1.6M51.65 158.3v-3.5M51.65 20.5v3.5M54.57 158.3v-1.6M54.57 20.5v1.6M57.49 158.3v-1.6M57.49 20.5v1.6M60.41 158.3v-1.6M60.41 20.5v1.6M63.33 158.3v-1.6M63.33 20.5v1.6M66.25 158.3v-1.6M66.25 20.5v1.6M69.17 158.3v-1.6M69.17 20.5v1.6M72.09 158.3v-1.6M72.09 20.5v1.6M75.01 158.3v-1.6M75.01 20.5v1.6M77.93 158.3v-1.6M77.93 20.5v1.6M80.85 158.3v-3.5M80.85 20.5v3.5M83.77 158.3v-1.6M83.77 20.5v1.6M86.69 158.3v-1.6M86.69 20.5v1.6M89.61 158.3v-1.6M89.61 20.5v1.6M92.53 158.3v-1.6M92.53 20.5v1.6M95.45 158.3v-1.6M95.45 20.5v1.6M98.37 158.3v-1.6M98.37 20.5v1.6M101.29 158.3v-1.6M101.29 20.5v1.6M104.21 158.3v-1.6M104.21 20.5v1.6M107.13 158.3v-1.6M107.13 20.5v1.6M110.05 158.3v-3.5M110.05 20.5v3.5M112.97 158.3v-1.6M112.97 20.5v1.6M115.89 158.3v-1.6M115.89 20.5v1.6M118.81 158.3v-1.6M118.81 20.5v1.6M121.73 158.3v-1.6M121.73 20.5v1.6M124.65 158.3v-1.6M124.65 20.5v1.6M127.57 158.3v-1.6M127.57 20.5v1.6M130.49 158.3v-1.6M130.49 20.5v1.6M133.41 158.3v-1.6M133.41 20.5v1.6M136.33 158.3v-1.6M136.33 20.5v1.6M139.25 158.3v-3.5M139.25 20.5v3.5M142.17 158.3v-1.6M142.17 20.5v1.6M145.09 158.3v-1.6M145.09 20.5v1.6M148.01 158.3v-1.6M148.01 20.5v1.6M150.93 158.3v-1.6M150.93 20.5v1.6M153.85 158.3v-1.6M153.85 20.5v1.6M156.77 158.3v-1.6M156.77 20.5v1.6M159.69 158.3v-1.6M159.69 20.5v1.6M162.61 158.3v-1.6M162.61 20.5v1.6M165.53 158.3v-1.6M165.53 20.5v1.6M168.45 158.3v-3.5M168.45 20.5v3.5M171.37 158.3v-1.6M171.37 20.5v1.6M174.29 158.3v-1.6M174.29 20.5v1.6M177.21 158.3v-1.6M177.21 20.5v1.6M180.13 158.3v-1.6M180.13 20.5v1.6M183.05 158.3v-1.6M183.05 20.5v1.6M185.97 158.3v-1.6M185.97 20.5v1.6M188.89 158.3v-1.6M188.89 20.5v1.6M191.81 158.3v-1.6M191.81 20.5v1.6M194.73 158.3v-1.6M194.73 20.5v1.6M197.65 158.3v-3.5M197.65 20.5v3.5M200.57 158.3v-1.6M200.57 20.5v1.6M203.49 158.3v-1.6M203.49 20.5v1.6M206.41 158.3v-1.6M206.41 20.5v1.6M209.33 158.3v-1.6M209.33 20.5v1.6M212.25 158.3v-1.6M212.25 20.5v1.6M215.17 158.3v-1.6M215.17 20.5v1.6M218.09 158.3v-1.6M218.09 20.5v1.6M221.01 158.3v-1.6M221.01 20.5v1.6M223.93 158.3v-1.6M223.93 20.5v1.6M226.85 158.3v-3.5M226.85 20.5v3.5M229.77 158.3v-1.6M229.77 20.5v1.6M232.69 158.3v-1.6M232.69 20.5v1.6M235.61 158.3v-1.6M235.61 20.5v1.6M238.53 158.3v-1.6M238.53 20.5v1.6M241.45 158.3v-1.6M241.45 20.5v1.6M37.05 157.08h2M241.45 157.08h-2M37.05 148.62h2M241.45 148.62h-2M37.05 140.16h2M241.45 140.16h-2M37.05 131.7h3.8M241.45 131.7h-3.8M37.05 123.24h2M241.45 123.24h-2M37.05 114.78h2M241.45 114.78h-2M37.05 106.32h2M241.45 106.32h-2M37.05 97.86h2M241.45 97.86h-2M37.05 89.4h3.8M241.45 89.4h-3.8M37.05 80.94h2M241.45 80.94h-2M37.05 72.48h2M241.45 72.48h-2M37.05 64.02h2M241.45 64.02h-2M37.05 55.56h2M241.45 55.56h-2M37.05 47.1h3.8M241.45 47.1h-3.8M37.05 38.64h2M241.45 38.64h-2M37.05 30.18h2M241.45 30.18h-2M37.05 21.72h2M241.45 21.72h-2M37.05 295.9v-1.6M37.05 158.3v1.6M39.97 295.9v-1.6M39.97 158.3v1.6M42.89 295.9v-1.6M42.89 158.3v1.6M45.81 295.9v-1.6M45.81 158.3v1.6M48.73 295.9v-1.6M48.73 158.3v1.6M51.65 295.9v-3.5M51.65 158.3v3.5M54.57 295.9v-1.6M54.57 158.3v1.6M57.49 295.9v-1.6M57.49 158.3v1.6M60.41 295.9v-1.6M60.41 158.3v1.6M63.33 295.9v-1.6M63.33 158.3v1.6M66.25 295.9v-1.6M66.25 158.3v1.6M69.17 295.9v-1.6M69.17 158.3v1.6M72.09 295.9v-1.6M72.09 158.3v1.6M75.01 295.9v-1.6M75.01 158.3v1.6M77.93 295.9v-1.6M77.93 158.3v1.6M80.85 295.9v-3.5M80.85 158.3v3.5M83.77 295.9v-1.6M83.77 158.3v1.6M86.69 295.9v-1.6M86.69 158.3v1.6M89.61 295.9v-1.6M89.61 158.3v1.6M92.53 295.9v-1.6M92.53 158.3v1.6M95.45 295.9v-1.6M95.45 158.3v1.6M98.37 295.9v-1.6M98.37 158.3v1.6M101.29 295.9v-1.6M101.29 158.3v1.6M104.21 295.9v-1.6M104.21 158.3v1.6M107.13 295.9v-1.6M107.13 158.3v1.6M110.05 295.9v-3.5M110.05 158.3v3.5M112.97 295.9v-1.6M112.97 158.3v1.6M115.89 295.9v-1.6M115.89 158.3v1.6M118.81 295.9v-1.6M118.81 158.3v1.6M121.73 295.9v-1.6M121.73 158.3v1.6M124.65 295.9v-1.6M124.65 158.3v1.6M127.57 295.9v-1.6M127.57 158.3v1.6M130.49 295.9v-1.6M130.49 158.3v1.6M133.41 295.9v-1.6M133.41 158.3v1.6M136.33 295.9v-1.6M136.33 158.3v1.6M139.25 295.9v-3.5M139.25 158.3v3.5M142.17 295.9v-1.6M142.17 158.3v1.6M145.09 295.9v-1.6M145.09 158.3v1.6M148.01 295.9v-1.6M148.01 158.3v1.6M150.93 295.9v-1.6M150.93 158.3v1.6M153.85 295.9v-1.6M153.85 158.3v1.6M156.77 295.9v-1.6M156.77 158.3v1.6M159.69 295.9v-1.6M159.69 158.3v1.6M162.61 295.9v-1.6M162.61 158.3v1.6M165.53 295.9v-1.6M165.53 158.3v1.6M168.45 295.9v-3.5M168.45 158.3v3.5M171.37 295.9v-1.6M171.37 158.3v1.6M174.29 295.9v-1.6M174.29 158.3v1.6M177.21 295.9v-1.6M177.21 158.3v1.6M180.13 295.9v-1.6M180.13 158.3v1.6M183.05 295.9v-1.6M183.05 158.3v1.6M185.97 295.9v-1.6M185.97 158.3v1.6M188.89 295.9v-1.6M188.89 158.3v1.6M191.81 295.9v-1.6M191.81 158.3v1.6M194.73 295.9v-1.6M194.73 158.3v1.6M197.65 295.9v-3.5M197.65 158.3v3.5M200.57 295.9v-1.6M200.57 158.3v1.6M203.49 295.9v-1.6M203.49 158.3v1.6M206.41 295.9v-1.6M206.41 158.3v1.6M209.33 295.9v-1.6M209.33 158.3v1.6M212.25 295.9v-1.6M212.25 158.3v1.6M215.17 295.9v-1.6M215.17 158.3v1.6M218.09 295.9v-1.6M218.09 158.3v1.6M221.01 295.9v-1.6M221.01 158.3v1.6M223.93 295.9v-1.6M223.93 158.3v1.6M226.85 295.9v-3.5M226.85 158.3v3.5M229.77 295.9v-1.6M229.77 158.3v1.6M232.69 295.9v-1.6M232.69 158.3v1.6M235.61 295.9v-1.6M235.61 158.3v1.6M238.53 295.9v-1.6M238.53 158.3v1.6M241.45 295.9v-1.6M241.45 158.3v1.6M37.05 294.78h2M241.45 294.78h-2M37.05 286.32h2M241.45 286.32h-2M37.05 277.86h2M241.45 277.86h-2M37.05 269.4h3.8M241.45 269.4h-3.8M37.05 260.94h2M241.45 260.94h-2M37.05 252.48h2M241.45 252.48h-2M37.05 244.02h2M241.45 244.02h-2M37.05 235.56h2M241.45 235.56h-2M37.05 227.1h3.8M241.45 227.1h-3.8M37.05 218.64h2M241.45 218.64h-2M37.05 210.18h2M241.45 210.18h-2M37.05 201.72h2M241.45 201.72h-2M37.05 193.26h2M241.45 193.26h-2M37.05 184.8h3.8M241.45 184.8h-3.8M37.05 176.34h2M241.45 176.34h-2M37.05 167.88h2M241.45 167.88h-2M37.05 159.42h2M241.45 159.42h-2M37.05 433.5v-1.6M37.05 295.9v1.6M39.97 433.5v-1.6M39.97 295.9v1.6M42.89 433.5v-1.6M42.89 295.9v1.6M45.81 433.5v-1.6M45.81 295.9v1.6M48.73 433.5v-1.6M48.73 295.9v1.6M51.65 433.5v-3.5M51.65 295.9v3.5M54.57 433.5v-1.6M54.57 295.9v1.6M57.49 433.5v-1.6M57.49 295.9v1.6M60.41 433.5v-1.6M60.41 295.9v1.6M63.33 433.5v-1.6M63.33 295.9v1.6M66.25 433.5v-1.6M66.25 295.9v1.6M69.17 433.5v-1.6M69.17 295.9v1.6M72.09 433.5v-1.6M72.09 295.9v1.6M75.01 433.5v-1.6M75.01 295.9v1.6M77.93 433.5v-1.6M77.93 295.9v1.6M80.85 433.5v-3.5M80.85 295.9v3.5M83.77 433.5v-1.6M83.77 295.9v1.6M86.69 433.5v-1.6M86.69 295.9v1.6M89.61 433.5v-1.6M89.61 295.9v1.6M92.53 433.5v-1.6M92.53 295.9v1.6M95.45 433.5v-1.6M95.45 295.9v1.6M98.37 433.5v-1.6M98.37 295.9v1.6M101.29 433.5v-1.6M101.29 295.9v1.6M104.21 433.5v-1.6M104.21 295.9v1.6M107.13 433.5v-1.6M107.13 295.9v1.6M110.05 433.5v-3.5M110.05 295.9v3.5M112.97 433.5v-1.6M112.97 295.9v1.6M115.89 433.5v-1.6M115.89 295.9v1.6M118.81 433.5v-1.6M118.81 295.9v1.6M121.73 433.5v-1.6M121.73 295.9v1.6M124.65 433.5v-1.6M124.65 295.9v1.6M127.57 433.5v-1.6M127.57 295.9v1.6M130.49 433.5v-1.6M130.49 295.9v1.6M133.41 433.5v-1.6M133.41 295.9v1.6M136.33 433.5v-1.6M136.33 295.9v1.6M139.25 433.5v-3.5M139.25 295.9v3.5M142.17 433.5v-1.6M142.17 295.9v1.6M145.09 433.5v-1.6M145.09 295.9v1.6M148.01 433.5v-1.6M148.01 295.9v1.6M150.93 433.5v-1.6M150.93 295.9v1.6M153.85 433.5v-1.6M153.85 295.9v1.6M156.77 433.5v-1.6M156.77 295.9v1.6M159.69 433.5v-1.6M159.69 295.9v1.6M162.61 433.5v-1.6M162.61 295.9v1.6M165.53 433.5v-1.6M165.53 295.9v1.6M168.45 433.5v-3.5M168.45 295.9v3.5M171.37 433.5v-1.6M171.37 295.9v1.6M174.29 433.5v-1.6M174.29 295.9v1.6M177.21 433.5v-1.6M177.21 295.9v1.6M180.13 433.5v-1.6M180.13 295.9v1.6M183.05 433.5v-1.6M183.05 295.9v1.6M185.97 433.5v-1.6M185.97 295.9v1.6M188.89 433.5v-1.6M188.89 295.9v1.6M191.81 433.5v-1.6M191.81 295.9v1.6M194.73 433.5v-1.6M194.73 295.9v1.6M197.65 433.5v-3.5M197.65 295.9v3.5M200.57 433.5v-1.6M200.57 295.9v1.6M203.49 433.5v-1.6M203.49 295.9v1.6M206.41 433.5v-1.6M206.41 295.9v1.6M209.33 433.5v-1.6M209.33 295.9v1.6M212.25 433.5v-1.6M212.25 295.9v1.6M215.17 433.5v-1.6M215.17 295.9v1.6M218.09 433.5v-1.6M218.09 295.9v1.6M221.01 433.5v-1.6M221.01 295.9v1.6M223.93 433.5v-1.6M223.93 295.9v1.6M226.85 433.5v-3.5M226.85 295.9v3.5M229.77 433.5v-1.6M229.77 295.9v1.6M232.69 433.5v-1.6M232.69 295.9v1.6M235.61 433.5v-1.6M235.61 295.9v1.6M238.53 433.5v-1.6M238.53 295.9v1.6M241.45 433.5v-1.6M241.45 295.9v1.6M37.05 432.38h2M241.45 432.38h-2M37.05 423.92h2M241.45 423.92h-2M37.05 415.46h2M241.45 415.46h-2M37.05 407h3.8M241.45 407h-3.8M37.05 398.54h2M241.45 398.54h-2M37.05 390.08h2M241.45 390.08h-2M37.05 381.62h2M241.45 381.62h-2M37.05 373.16h2M241.45 373.16h-2M37.05 364.7h3.8M241.45 364.7h-3.8M37.05 356.24h2M241.45 356.24h-2M37.05 347.78h2M241.45 347.78h-2M37.05 339.32h2M241.45 339.32h-2M37.05 330.86h2M241.45 330.86h-2M37.05 322.4h3.8M241.45 322.4h-3.8M37.05 313.94h2M241.45 313.94h-2M37.05 305.48h2M241.45 305.48h-2M37.05 297.02h2M241.45 297.02h-2M240.93 158.3v-1.6M240.93 20.5v1.6M243.85 158.3v-1.6M243.85 20.5v1.6M246.77 158.3v-1.6M246.77 20.5v1.6M249.69 158.3v-1.6M249.69 20.5v1.6M252.6 158.3v-1.6M252.6 20.5v1.6M255.52 158.3v-3.5M255.52 20.5v3.5M258.44 158.3v-1.6M258.44 20.5v1.6M261.35 158.3v-1.6M261.35 20.5v1.6M264.27 158.3v-1.6M264.27 20.5v1.6M267.19 158.3v-1.6M267.19 20.5v1.6M270.1 158.3v-1.6M270.1 20.5v1.6M273.02 158.3v-1.6M273.02 20.5v1.6M275.94 158.3v-1.6M275.94 20.5v1.6M278.86 158.3v-1.6M278.86 20.5v1.6M281.77 158.3v-1.6M281.77 20.5v1.6M284.69 158.3v-3.5M284.69 20.5v3.5M287.61 158.3v-1.6M287.61 20.5v1.6M290.52 158.3v-1.6M290.52 20.5v1.6M293.44 158.3v-1.6M293.44 20.5v1.6M296.36 158.3v-1.6M296.36 20.5v1.6M299.27 158.3v-1.6M299.27 20.5v1.6M302.19 158.3v-1.6M302.19 20.5v1.6M305.11 158.3v-1.6M305.11 20.5v1.6M308.03 158.3v-1.6M308.03 20.5v1.6M310.94 158.3v-1.6M310.94 20.5v1.6M313.86 158.3v-3.5M313.86 20.5v3.5M316.78 158.3v-1.6M316.78 20.5v1.6M319.69 158.3v-1.6M319.69 20.5v1.6M322.61 158.3v-1.6M322.61 20.5v1.6M325.53 158.3v-1.6M325.53 20.5v1.6M328.44 158.3v-1.6M328.44 20.5v1.6M331.36 158.3v-1.6M331.36 20.5v1.6M334.28 158.3v-1.6M334.28 20.5v1.6M337.2 158.3v-1.6M337.2 20.5v1.6M340.11 158.3v-1.6M340.11 20.5v1.6M343.03 158.3v-3.5M343.03 20.5v3.5M345.95 158.3v-1.6M345.95 20.5v1.6M348.86 158.3v-1.6M348.86 20.5v1.6M351.78 158.3v-1.6M351.78 20.5v1.6M354.7 158.3v-1.6M354.7 20.5v1.6M357.61 158.3v-1.6M357.61 20.5v1.6M360.53 158.3v-1.6M360.53 20.5v1.6M363.45 158.3v-1.6M363.45 20.5v1.6M366.37 158.3v-1.6M366.37 20.5v1.6M369.28 158.3v-1.6M369.28 20.5v1.6M372.2 158.3v-3.5M372.2 20.5v3.5M375.12 158.3v-1.6M375.12 20.5v1.6M378.03 158.3v-1.6M378.03 20.5v1.6M380.95 158.3v-1.6M380.95 20.5v1.6M383.87 158.3v-1.6M383.87 20.5v1.6M386.78 158.3v-1.6M386.78 20.5v1.6M389.7 158.3v-1.6M389.7 20.5v1.6M392.62 158.3v-1.6M392.62 20.5v1.6M395.54 158.3v-1.6M395.54 20.5v1.6M398.45 158.3v-1.6M398.45 20.5v1.6M401.37 158.3v-3.5M401.37 20.5v3.5M404.29 158.3v-1.6M404.29 20.5v1.6M407.2 158.3v-1.6M407.2 20.5v1.6M410.12 158.3v-1.6M410.12 20.5v1.6M413.04 158.3v-1.6M413.04 20.5v1.6M415.95 158.3v-1.6M415.95 20.5v1.6M418.87 158.3v-1.6M418.87 20.5v1.6M421.79 158.3v-1.6M421.79 20.5v1.6M424.71 158.3v-1.6M424.71 20.5v1.6M427.62 158.3v-1.6M427.62 20.5v1.6M430.54 158.3v-3.5M430.54 20.5v3.5M433.46 158.3v-1.6M433.46 20.5v1.6M436.37 158.3v-1.6M436.37 20.5v1.6M439.29 158.3v-1.6M439.29 20.5v1.6M442.21 158.3v-1.6M442.21 20.5v1.6M445.12 158.3v-1.6M445.12 20.5v1.6M240.93 157.08h2M444.4 157.08h-2M240.93 148.62h2M444.4 148.62h-2M240.93 140.16h2M444.4 140.16h-2M240.93 131.7h3.8M444.4 131.7h-3.8M240.93 123.24h2M444.4 123.24h-2M240.93 114.78h2M444.4 114.78h-2M240.93 106.32h2M444.4 106.32h-2M240.93 97.86h2M444.4 97.86h-2M240.93 89.4h3.8M444.4 89.4h-3.8M240.93 80.94h2M444.4 80.94h-2M240.93 72.48h2M444.4 72.48h-2M240.93 64.02h2M444.4 64.02h-2M240.93 55.56h2M444.4 55.56h-2M240.93 47.1h3.8M444.4 47.1h-3.8M240.93 38.64h2M444.4 38.64h-2M240.93 30.18h2M444.4 30.18h-2M240.93 21.72h2M444.4 21.72h-2M240.93 295.9v-1.6M240.93 158.3v1.6M243.85 295.9v-1.6M243.85 158.3v1.6M246.77 295.9v-1.6M246.77 158.3v1.6M249.69 295.9v-1.6M249.69 158.3v1.6M252.6 295.9v-1.6M252.6 158.3v1.6M255.52 295.9v-3.5M255.52 158.3v3.5M258.44 295.9v-1.6M258.44 158.3v1.6M261.35 295.9v-1.6M261.35 158.3v1.6M264.27 295.9v-1.6M264.27 158.3v1.6M267.19 295.9v-1.6M267.19 158.3v1.6M270.1 295.9v-1.6M270.1 158.3v1.6M273.02 295.9v-1.6M273.02 158.3v1.6M275.94 295.9v-1.6M275.94 158.3v1.6M278.86 295.9v-1.6M278.86 158.3v1.6M281.77 295.9v-1.6M281.77 158.3v1.6M284.69 295.9v-3.5M284.69 158.3v3.5M287.61 295.9v-1.6M287.61 158.3v1.6M290.52 295.9v-1.6M290.52 158.3v1.6M293.44 295.9v-1.6M293.44 158.3v1.6M296.36 295.9v-1.6M296.36 158.3v1.6M299.27 295.9v-1.6M299.27 158.3v1.6M302.19 295.9v-1.6M302.19 158.3v1.6M305.11 295.9v-1.6M305.11 158.3v1.6M308.03 295.9v-1.6M308.03 158.3v1.6M310.94 295.9v-1.6M310.94 158.3v1.6M313.86 295.9v-3.5M313.86 158.3v3.5M316.78 295.9v-1.6M316.78 158.3v1.6M319.69 295.9v-1.6M319.69 158.3v1.6M322.61 295.9v-1.6M322.61 158.3v1.6M325.53 295.9v-1.6M325.53 158.3v1.6M328.44 295.9v-1.6M328.44 158.3v1.6M331.36 295.9v-1.6M331.36 158.3v1.6M334.28 295.9v-1.6M334.28 158.3v1.6M337.2 295.9v-1.6M337.2 158.3v1.6M340.11 295.9v-1.6M340.11 158.3v1.6M343.03 295.9v-3.5M343.03 158.3v3.5M345.95 295.9v-1.6M345.95 158.3v1.6M348.86 295.9v-1.6M348.86 158.3v1.6M351.78 295.9v-1.6M351.78 158.3v1.6M354.7 295.9v-1.6M354.7 158.3v1.6M357.61 295.9v-1.6M357.61 158.3v1.6M360.53 295.9v-1.6M360.53 158.3v1.6M363.45 295.9v-1.6M363.45 158.3v1.6M366.37 295.9v-1.6M366.37 158.3v1.6M369.28 295.9v-1.6M369.28 158.3v1.6M372.2 295.9v-3.5M372.2 158.3v3.5M375.12 295.9v-1.6M375.12 158.3v1.6M378.03 295.9v-1.6M378.03 158.3v1.6M380.95 295.9v-1.6M380.95 158.3v1.6M383.87 295.9v-1.6M383.87 158.3v1.6M386.78 295.9v-1.6M386.78 158.3v1.6M389.7 295.9v-1.6M389.7 158.3v1.6M392.62 295.9v-1.6M392.62 158.3v1.6M395.54 295.9v-1.6M395.54 158.3v1.6M398.45 295.9v-1.6M398.45 158.3v1.6M401.37 295.9v-3.5M401.37 158.3v3.5M404.29 295.9v-1.6M404.29 158.3v1.6M407.2 295.9v-1.6M407.2 158.3v1.6M410.12 295.9v-1.6M410.12 158.3v1.6M413.04 295.9v-1.6M413.04 158.3v1.6M415.95 295.9v-1.6M415.95 158.3v1.6M418.87 295.9v-1.6M418.87 158.3v1.6M421.79 295.9v-1.6M421.79 158.3v1.6M424.71 295.9v-1.6M424.71 158.3v1.6M427.62 295.9v-1.6M427.62 158.3v1.6M430.54 295.9v-3.5M430.54 158.3v3.5M433.46 295.9v-1.6M433.46 158.3v1.6M436.37 295.9v-1.6M436.37 158.3v1.6M439.29 295.9v-1.6M439.29 158.3v1.6M442.21 295.9v-1.6M442.21 158.3v1.6M445.12 295.9v-1.6M445.12 158.3v1.6M240.93 294.78h2M444.4 294.78h-2M240.93 286.32h2M444.4 286.32h-2M240.93 277.86h2M444.4 277.86h-2M240.93 269.4h3.8M444.4 269.4h-3.8M240.93 260.94h2M444.4 260.94h-2M240.93 252.48h2M444.4 252.48h-2M240.93 244.02h2M444.4 244.02h-2M240.93 235.56h2M444.4 235.56h-2M240.93 227.1h3.8M444.4 227.1h-3.8M240.93 218.64h2M444.4 218.64h-2M240.93 210.18h2M444.4 210.18h-2M240.93 201.72h2M444.4 201.72h-2M240.93 193.26h2M444.4 193.26h-2M240.93 184.8h3.8M444.4 184.8h-3.8M240.93 176.34h2M444.4 176.34h-2M240.93 167.88h2M444.4 167.88h-2M240.93 159.42h2M444.4 159.42h-2M240.93 433.5v-1.6M240.93 295.9v1.6M243.85 433.5v-1.6M243.85 295.9v1.6M246.77 433.5v-1.6M246.77 295.9v1.6M249.69 433.5v-1.6M249.69 295.9v1.6M252.6 433.5v-1.6M252.6 295.9v1.6M255.52 433.5v-3.5M255.52 295.9v3.5M258.44 433.5v-1.6M258.44 295.9v1.6M261.35 433.5v-1.6M261.35 295.9v1.6M264.27 433.5v-1.6M264.27 295.9v1.6M267.19 433.5v-1.6M267.19 295.9v1.6M270.1 433.5v-1.6M270.1 295.9v1.6M273.02 433.5v-1.6M273.02 295.9v1.6M275.94 433.5v-1.6M275.94 295.9v1.6M278.86 433.5v-1.6M278.86 295.9v1.6M281.77 433.5v-1.6M281.77 295.9v1.6M284.69 433.5v-3.5M284.69 295.9v3.5M287.61 433.5v-1.6M287.61 295.9v1.6M290.52 433.5v-1.6M290.52 295.9v1.6M293.44 433.5v-1.6M293.44 295.9v1.6M296.36 433.5v-1.6M296.36 295.9v1.6M299.27 433.5v-1.6M299.27 295.9v1.6M302.19 433.5v-1.6M302.19 295.9v1.6M305.11 433.5v-1.6M305.11 295.9v1.6M308.03 433.5v-1.6M308.03 295.9v1.6M310.94 433.5v-1.6M310.94 295.9v1.6M313.86 433.5v-3.5M313.86 295.9v3.5M316.78 433.5v-1.6M316.78 295.9v1.6M319.69 433.5v-1.6M319.69 295.9v1.6M322.61 433.5v-1.6M322.61 295.9v1.6M325.53 433.5v-1.6M325.53 295.9v1.6M328.44 433.5v-1.6M328.44 295.9v1.6M331.36 433.5v-1.6M331.36 295.9v1.6M334.28 433.5v-1.6M334.28 295.9v1.6M337.2 433.5v-1.6M337.2 295.9v1.6M340.11 433.5v-1.6M340.11 295.9v1.6M343.03 433.5v-3.5M343.03 295.9v3.5M345.95 433.5v-1.6M345.95 295.9v1.6M348.86 433.5v-1.6M348.86 295.9v1.6M351.78 433.5v-1.6M351.78 295.9v1.6M354.7 433.5v-1.6M354.7 295.9v1.6M357.61 433.5v-1.6M357.61 295.9v1.6M360.53 433.5v-1.6M360.53 295.9v1.6M363.45 433.5v-1.6M363.45 295.9v1.6M366.37 433.5v-1.6M366.37 295.9v1.6M369.28 433.5v-1.6M369.28 295.9v1.6M372.2 433.5v-3.5M372.2 295.9v3.5M375.12 433.5v-1.6M375.12 295.9v1.6M378.03 433.5v-1.6M378.03 295.9v1.6M380.95 433.5v-1.6M380.95 295.9v1.6M383.87 433.5v-1.6M383.87 295.9v1.6M386.78 433.5v-1.6M386.78 295.9v1.6M389.7 433.5v-1.6M389.7 295.9v1.6M392.62 433.5v-1.6M392.62 295.9v1.6M395.54 433.5v-1.6M395.54 295.9v1.6M398.45 433.5v-1.6M398.45 295.9v1.6M401.37 433.5v-3.5M401.37 295.9v3.5M404.29 433.5v-1.6M404.29 295.9v1.6M407.2 433.5v-1.6M407.2 295.9v1.6M410.12 433.5v-1.6M410.12 295.9v1.6M413.04 433.5v-1.6M413.04 295.9v1.6M415.95 433.5v-1.6M415.95 295.9v1.6M418.87 433.5v-1.6M418.87 295.9v1.6M421.79 433.5v-1.6M421.79 295.9v1.6M424.71 433.5v-1.6M424.71 295.9v1.6M427.62 433.5v-1.6M427.62 295.9v1.6M430.54 433.5v-3.5M430.54 295.9v3.5M433.46 433.5v-1.6M433.46 295.9v1.6M436.37 433.5v-1.6M436.37 295.9v1.6M439.29 433.5v-1.6M439.29 295.9v1.6M442.21 433.5v-1.6M442.21 295.9v1.6M445.12 433.5v-1.6M445.12 295.9v1.6M240.93 432.38h2M444.4 432.38h-2M240.93 423.92h2M444.4 423.92h-2M240.93 415.46h2M444.4 415.46h-2M240.93 407h3.8M444.4 407h-3.8M240.93 398.54h2M444.4 398.54h-2M240.93 390.08h2M444.4 390.08h-2M240.93 381.62h2M444.4 381.62h-2M240.93 373.16h2M444.4 373.16h-2M240.93 364.7h3.8M444.4 364.7h-3.8M240.93 356.24h2M444.4 356.24h-2M240.93 347.78h2M444.4 347.78h-2M240.93 339.32h2M444.4 339.32h-2M240.93 330.86h2M444.4 330.86h-2M240.93 322.4h3.8M444.4 322.4h-3.8M240.93 313.94h2M444.4 313.94h-2M240.93 305.48h2M444.4 305.48h-2M240.93 297.02h2M444.4 297.02h-2" stroke="#222" stroke-width="0.9" fill="none"/>
<line x1="150.4" y1="123.9" x2="178" y2="123.9" stroke="#ff0000" stroke-width="1.7"/>
<line x1="150.4" y1="144.3" x2="178" y2="144.3" stroke="#0000ff" stroke-width="0.9"/>
<g font-family="Liberation Sans, sans-serif" font-size="14.7" fill="#000" stroke="#000" stroke-width="0.35" style="filter:grayscale(1)">
<text x="33.0" y="47.4" text-anchor="end" dominant-baseline="central">0.05</text>
<text x="33.0" y="89.7" text-anchor="end" dominant-baseline="central">0.00</text>
<text x="33.0" y="132" text-anchor="end" dominant-baseline="central">-0.05</text>
<text x="33.0" y="185.1" text-anchor="end" dominant-baseline="central">0.05</text>
<text x="33.0" y="227.4" text-anchor="end" dominant-baseline="central">0.00</text>
<text x="33.0" y="269.7" text-anchor="end" dominant-baseline="central">-0.05</text>
<text x="33.0" y="322.7" text-anchor="end" dominant-baseline="central">0.05</text>
<text x="33.0" y="365" text-anchor="end" dominant-baseline="central">0.00</text>
<text x="33.0" y="407.3" text-anchor="end" dominant-baseline="central">-0.05</text>
<text x="51.65" y="450.3" text-anchor="middle">-30</text>
<text x="80.85" y="450.3" text-anchor="middle">-20</text>
<text x="110.05" y="450.3" text-anchor="middle">-10</text>
<text x="139.25" y="450.3" text-anchor="middle">0</text>
<text x="168.45" y="450.3" text-anchor="middle">10</text>
<text x="197.65" y="450.3" text-anchor="middle">20</text>
<text x="226.85" y="450.3" text-anchor="middle">30</text>
<text x="139.25" y="465.8" text-anchor="middle">z</text>
<text x="139.25" y="13.1" text-anchor="middle" font-size="18.0">L=0.2</text>
<text x="197.8" y="41.1">t=0</text>
<text x="197.8" y="178.9">t=15</text>
<text x="197.8" y="316.5">t=30</text>
<text x="255.52" y="450.3" text-anchor="middle">-30</text>
<text x="284.69" y="450.3" text-anchor="middle">-20</text>
<text x="313.86" y="450.3" text-anchor="middle">-10</text>
<text x="343.03" y="450.3" text-anchor="middle">0</text>
<text x="372.2" y="450.3" text-anchor="middle">10</text>
<text x="401.37" y="450.3" text-anchor="middle">20</text>
<text x="430.54" y="450.3" text-anchor="middle">30</text>
<text x="343.03" y="465.8" text-anchor="middle">z</text>
<text x="343.03" y="13.1" text-anchor="middle" font-size="18.0">L=2.0</text>
<text x="401.68" y="41.1">t=0</text>
<text x="401.68" y="178.9">t=15</text>
<text x="401.68" y="316.5">t=30</text>
<text x="182.5" y="127.9">full</text>
<text x="182.5" y="148.5">asymp</text>
</g>
</svg>
</body></html>
